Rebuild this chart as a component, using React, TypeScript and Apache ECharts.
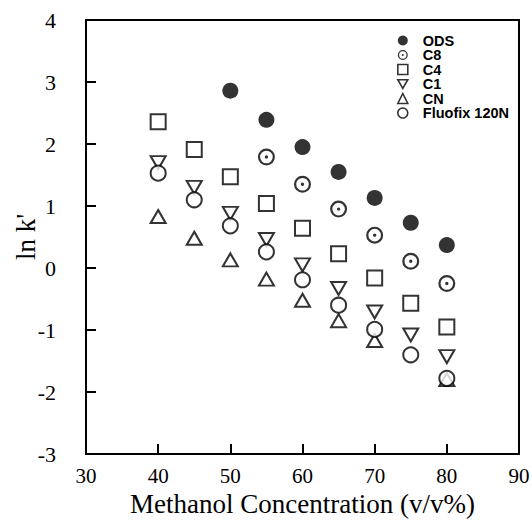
import React, { useEffect, useRef } from "react";
import * as echarts from "echarts";

const concentrations = [40, 45, 50, 55, 60, 65, 70, 75, 80];
const ods = [null, null, 2.86, 2.39, 1.95, 1.55, 1.13, 0.73, 0.37];
const c8 = [null, null, null, 1.79, 1.35, 0.95, 0.53, 0.11, -0.25];
const c4 = [2.36, 1.91, 1.47, 1.04, 0.64, 0.23, -0.16, -0.57, -0.95];
const c1 = [1.7, 1.3, 0.88, 0.46, 0.05, -0.33, -0.71, -1.08, -1.43];
const cn = [0.83, 0.48, 0.13, -0.18, -0.52, -0.85, -1.17, null, -1.8];
const fluofix = [1.53, 1.1, 0.68, 0.26, -0.19, -0.6, -0.99, -1.4, -1.78];

const ringDot =
  "path://M50,0 A50,50 0 1,1 50,100 A50,50 0 1,1 50,0 Z M50,13 A37,37 0 1,0 50,87 A37,37 0 1,0 50,13 Z M50,40 A10,10 0 1,1 50,60 A10,10 0 1,1 50,40 Z";
const downTri = "path://M0,0 L100,0 L50,86 Z";

function pairs(vals: (number | null)[]) {
  return concentrations
    .map((x, i) => [x, vals[i]])
    .filter((p) => p[1] !== null);
}

export default function App() {
  const ref = useRef<HTMLDivElement>(null);
  useEffect(() => {
    const chart = echarts.init(ref.current!, null, { renderer: "svg" });
    const openStyle = { color: "#fff", borderColor: "#000", borderWidth: 2 };
    const frameAxis = {
      axisLine: { show: true, onZero: false, lineStyle: { color: "#000", width: 2 } },
      axisTick: { show: false },
      axisLabel: { show: false },
      splitLine: { show: false },
    };
    chart.setOption({
      animation: false,
      backgroundColor: "#fff",
      textStyle: { fontFamily: "Liberation Serif" },
      grid: {
        left: 86,
        top: 20,
        right: 13,
        bottom: 70,
        containLabel: false,
        outerBoundsMode: "none",
      },
      legend: {
        orient: "vertical",
        left: 392,
        top: 28,
        itemWidth: 10,
        itemHeight: 10,
        itemGap: -0.5,
        itemStyle: { borderWidth: 1.6 },
        textStyle: {
          fontFamily: "Liberation Sans",
          fontSize: 14.5,
          fontWeight: "bold",
          lineHeight: 13.5,
          padding: [0, 0, 0, 10],
          color: "#000",
        },
        data: ["ODS", "C8", "C4", "C1", "CN", "Fluofix 120N"],
      },
      xAxis: [
        {
          type: "value",
          min: 30,
          max: 90,
          interval: 10,
          name: "Methanol Concentration (v/v%)",
          nameLocation: "middle",
          nameGap: 36,
          nameMoveOverlap: false,
          nameTextStyle: { fontSize: 27, color: "#000", fontFamily: "Liberation Serif" },
          axisLine: { onZero: false, lineStyle: { color: "#000", width: 2 } },
          axisTick: { inside: true, length: 10, lineStyle: { color: "#000", width: 2 } },
          axisLabel: { fontSize: 21, color: "#000", margin: 11, fontFamily: "Liberation Serif" },
          splitLine: { show: false },
        },
        { type: "value", position: "top", min: 30, max: 90, interval: 10, ...frameAxis },
      ],
      yAxis: [
        {
          type: "value",
          min: -3,
          max: 4,
          interval: 1,
          name: "ln k'",
          nameLocation: "middle",
          nameGap: 47,
          nameMoveOverlap: false,
          nameTextStyle: { fontSize: 27, color: "#000", fontFamily: "Liberation Serif" },
          axisLine: { onZero: false, lineStyle: { color: "#000", width: 2 } },
          axisTick: { inside: true, length: 10, lineStyle: { color: "#000", width: 2 } },
          axisLabel: { fontSize: 22, color: "#000", margin: 30, fontFamily: "Liberation Serif" },
          splitLine: { show: false },
        },
        { type: "value", position: "right", min: -3, max: 4, interval: 1, ...frameAxis },
      ],
      series: [
        {
          name: "ODS",
          type: "scatter",
          symbol: "circle",
          symbolSize: 16,
          itemStyle: { color: "#000" },
          data: pairs(ods),
        },
        {
          name: "C8",
          type: "scatter",
          symbol: ringDot,
          symbolSize: 17,
          itemStyle: { color: "#000", borderWidth: 0 },
          data: pairs(c8),
        },
        {
          name: "C4",
          type: "scatter",
          symbol: "rect",
          symbolSize: 15,
          itemStyle: openStyle,
          data: pairs(c4),
        },
        {
          name: "C1",
          type: "scatter",
          symbol: downTri,
          symbolSize: [15, 13],
          itemStyle: openStyle,
          data: pairs(c1),
        },
        {
          name: "CN",
          type: "scatter",
          symbol: "triangle",
          symbolSize: [15, 13],
          itemStyle: openStyle,
          data: pairs(cn),
        },
        {
          name: "Fluofix 120N",
          type: "scatter",
          symbol: "circle",
          symbolSize: 15,
          itemStyle: openStyle,
          data: pairs(fluofix),
        },
      ],
    });
    return () => chart.dispose();
  }, []);
  return (
    <div
      ref={ref}
      style={{ position: "fixed", left: 0, top: 0, width: 532, height: 524 }}
    />
  );
}
